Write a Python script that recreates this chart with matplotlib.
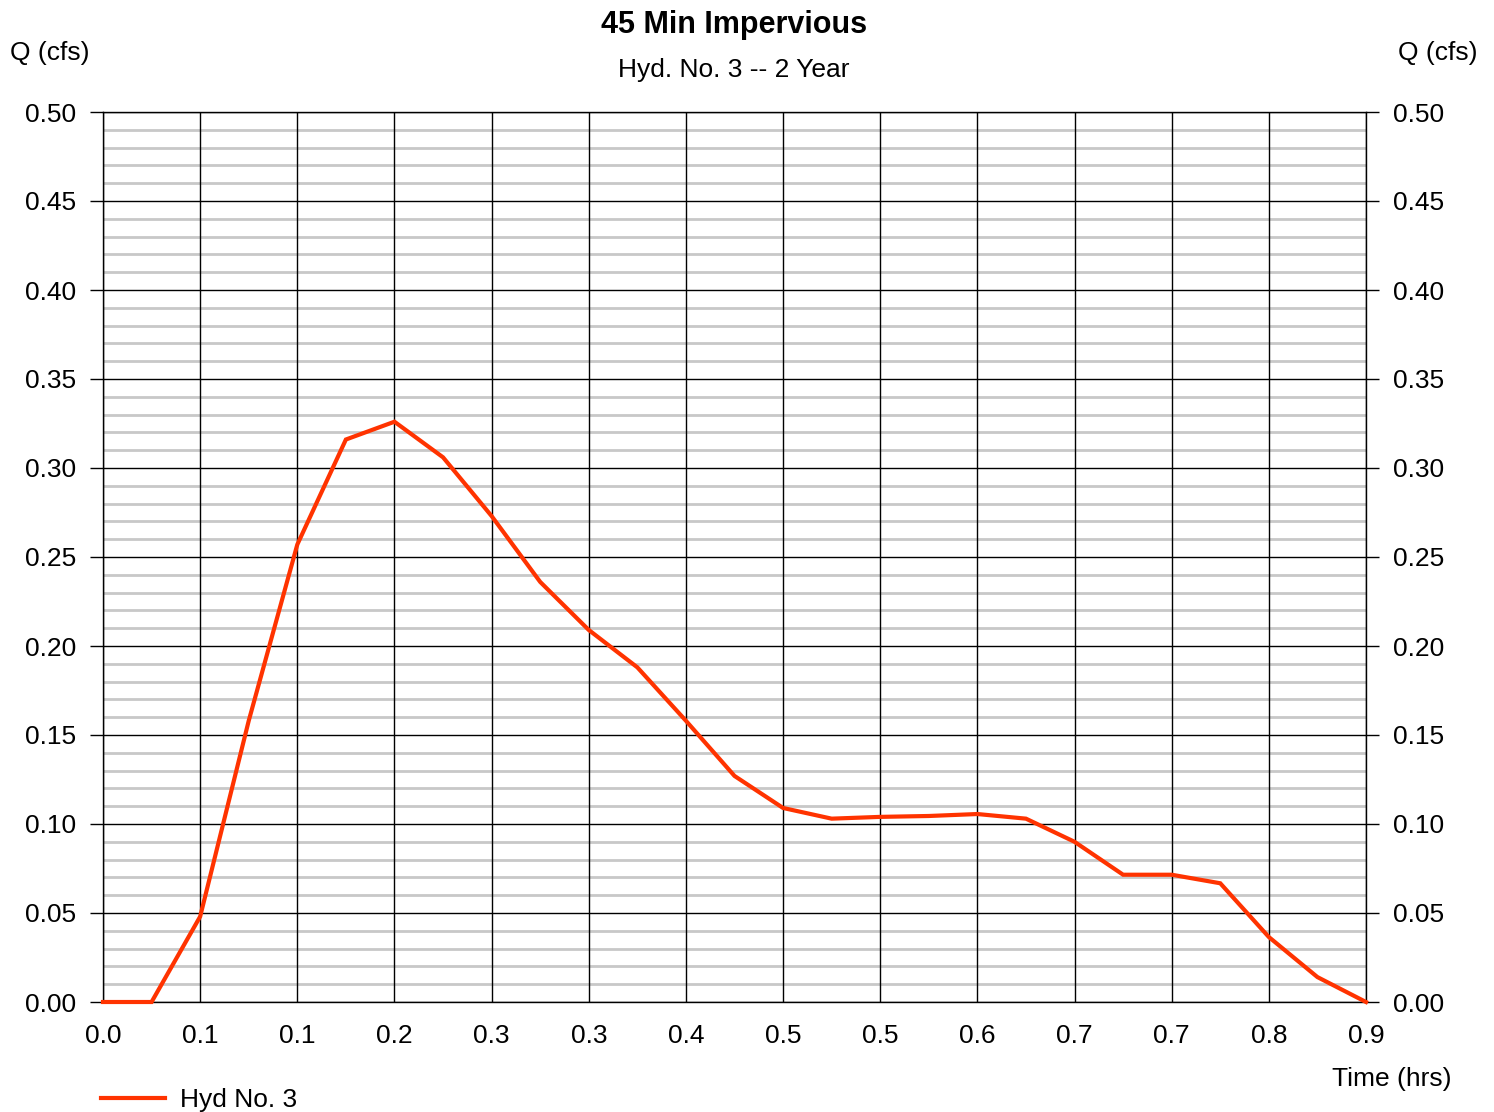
import matplotlib as mpl
import matplotlib.pyplot as plt
from matplotlib.ticker import FixedLocator, MultipleLocator, FormatStrFormatter

mpl.rcParams.update({
    "font.family": ["Liberation Sans", "DejaVu Sans"],
    "font.size": 19,
})

# hydrograph ordinates, 2-minute steps
time_min = [0, 2, 4, 6, 8, 10, 12, 14, 16, 18, 20, 22, 24, 26, 28,
            30, 32, 34, 36, 38, 40, 42, 44, 46, 48, 50, 52]
flow_cfs = [0.000, 0.000, 0.048, 0.158, 0.257, 0.316, 0.326, 0.306, 0.273,
            0.236, 0.209, 0.188, 0.158, 0.127, 0.109, 0.103, 0.104, 0.1045,
            0.1056, 0.103, 0.090, 0.0715, 0.0715, 0.0667, 0.0365, 0.014, 0.000]
x_ticks_min = [0, 4, 8, 12, 16, 20, 24, 28, 32, 36, 40, 44, 48, 52]

t_hrs = [m / 60 for m in time_min]
xt = [m / 60 for m in x_ticks_min]

RED = "#ff3300"

fig = plt.figure(figsize=(14.94, 11.12), dpi=100)
ax = fig.add_axes([103 / 1494, 1 - 1002 / 1112, (1366 - 103) / 1494, (1002 - 112) / 1112])
ax.set_axisbelow(True)

ax.set_xlim(0, xt[-1])
ax.set_ylim(0, 0.5)
ax.xaxis.set_major_locator(FixedLocator(xt))
ax.xaxis.set_major_formatter(FormatStrFormatter("%.1f"))
ax.yaxis.set_major_locator(MultipleLocator(0.05))
ax.yaxis.set_minor_locator(MultipleLocator(0.01))
ax.yaxis.set_major_formatter(FormatStrFormatter("%.2f"))

ax.grid(axis="y", which="minor", color="#c8c8c8", lw=2.0)
ax.grid(axis="y", which="major", color="black", lw=1.0)
# vertical grid drawn on top of the grey minor lines
ax.vlines(xt, 0, 0.5, color="black", lw=1.0, zorder=1.5)

ax.tick_params(axis="y", which="major", direction="out", length=9.5, width=1,
               left=True, right=True, labelleft=True, labelright=True,
               labelsize=19, pad=10)
ax.yaxis.set_tick_params(which="major", pad=12, labelright=True)
for t in ax.yaxis.get_major_ticks():
    t.set_pad(10)
ax.tick_params(axis="y", which="minor", length=0)
ax.tick_params(axis="x", length=0, labelsize=19, pad=15.5)
for s in ax.spines.values():
    s.set_linewidth(1.0)
    s.set_zorder(2)

ax.plot(t_hrs, flow_cfs, color=RED, lw=3.0, zorder=3, label="Hyd No. 3",
        solid_joinstyle="miter", clip_on=False)

fig.text(734 / 1494, 1 - 25 / 1112, "45 Min Impervious", ha="center", va="center",
         fontsize=22, fontweight="bold")
fig.text(734 / 1494, 1 - 70 / 1112, "Hyd. No. 3 -- 2 Year", ha="center", va="center",
         fontsize=19)
fig.text(10 / 1494, 1 - 53 / 1112, "Q (cfs)", ha="left", va="center", fontsize=19)
fig.text(1477 / 1494, 1 - 53 / 1112, "Q (cfs)", ha="right", va="center", fontsize=19)
fig.text(1451 / 1494, 1 - 1079 / 1112, "Time (hrs)", ha="right", va="center", fontsize=19)

ax.legend(loc="upper left", bbox_to_anchor=(96 / 1494, 1 - 1083 / 1112),
          bbox_transform=fig.transFigure, frameon=False, fontsize=19,
          handlelength=2.4, handletextpad=0.57, borderaxespad=0, borderpad=0.2)

fig.savefig("out.png", dpi=100)
